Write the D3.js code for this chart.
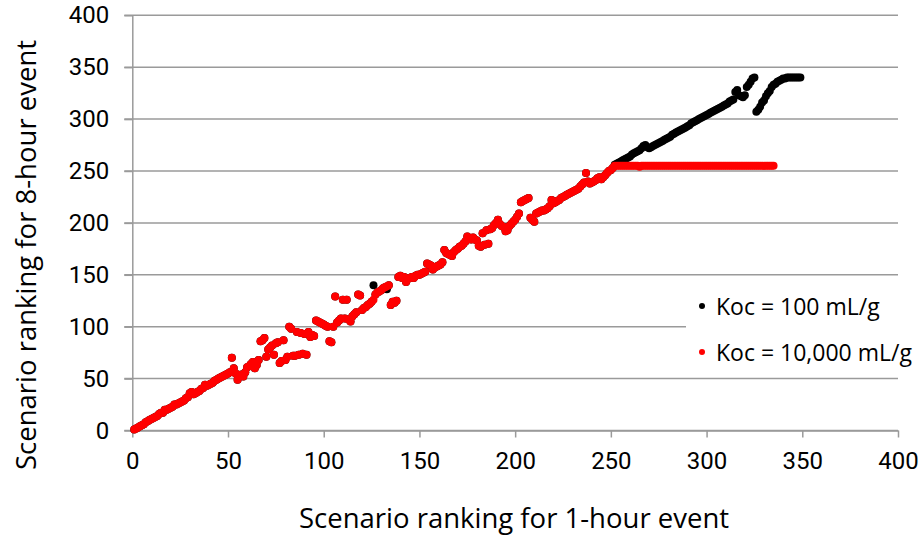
<!DOCTYPE html>
<html><head><meta charset="utf-8">
<script src="https://cdn.jsdelivr.net/npm/d3@7"></script>
<style>
body{margin:0;background:#fff}
svg{display:block}
text{font-family:'Open Sans','Noto Sans',sans-serif;fill:#000}
.tick text{font-family:Roboto,'Open Sans',sans-serif}
</style>
</head><body>
<svg id="chart" width="921" height="537"></svg>
<script>
// Axis ticks
const xTicks = [0, 50, 100, 150, 200, 250, 300, 350, 400];
const yTicks = [0, 50, 100, 150, 200, 250, 300, 350, 400];
const xTitle = "Scenario ranking for 1-hour event";
const yTitle = "Scenario ranking for 8-hour event";
const seriesNames = ["Koc = 100 mL/g", "Koc = 10,000 mL/g"];
const seriesColors = ["#000000", "#ff0000"];

// 8-hour ranking for each scenario, listed in order of its 1-hour ranking (1, 2, 3, ...)
const koc100Rank8h = [
1,2,3,4,5,6,8,9,10,11,
12,13,14,16,17,17,20,20,21,22,
23,25,25,26,27,28,29,31,32,36,
37,35,36,37,38,40,41,44,43,44,
45,46,48,49,50,51,52,53,54,55,
56,70,60,55,49,52,54,52,56,61,
62,64,66,60,63,68,86,87,89,71,
78,80,82,73,84,85,65,67,87,68,
71,100,98,72,72,95,73,94,74,93,
73,95,90,92,91,106,105,104,103,102,
101,100,86,85,100,129,104,106,108,126,
108,126,107,105,110,112,114,131,130,116,
118,119,121,122,124,140,131,133,134,135,
137,138,136,140,121,124,123,125,148,149,
147,148,143,146,147,148,147,149,150,150,
151,152,153,161,160,159,155,157,158,159,
160,162,174,171,170,169,168,172,174,175,
177,178,180,182,187,185,184,186,184,183,
178,177,190,179,193,180,194,195,198,200,
203,199,197,196,192,193,197,199,201,203,
206,209,220,221,222,223,224,205,203,201,
209,210,211,212,212,213,214,216,222,219,
220,221,222,224,225,226,227,228,229,230,
231,232,233,235,237,239,248,240,238,239,
240,241,243,244,242,244,246,248,250,251,
253,256,257,258,259,260,261,262,263,264,
266,267,268,269,270,272,274,275,273,272,
273,274,275,276,277,278,279,280,281,282,
283,285,286,287,288,289,290,291,292,293,
294,296,297,298,299,300,301,302,303,304,
305,306,307,308,309,310,311,312,313,314,
315,317,318,319,326,328,323,322,321,323,
331,333,336,339,340,307,309,312,316,318,
322,325,327,331,333,334,336,337,338,339,
339,340,340,340,340,340,340,340,340
];

const koc10000Rank8h = [
1,2,3,4,5,6,8,9,10,11,
12,13,14,16,17,17,20,20,21,22,
23,25,25,26,27,28,29,31,32,36,
37,35,36,37,38,40,41,44,43,44,
45,46,48,49,50,51,52,53,54,55,
56,70,60,55,49,52,54,52,56,61,
62,64,66,60,63,68,86,87,89,71,
78,80,82,73,84,85,65,67,87,68,
71,100,98,72,72,95,73,94,74,93,
73,95,90,92,91,106,105,104,103,102,
101,100,86,85,100,129,104,106,108,126,
108,126,107,105,110,112,114,131,130,116,
118,119,121,122,124,126,131,133,134,135,
137,138,139,140,121,124,123,125,148,149,
147,148,143,146,147,148,147,149,150,150,
151,152,153,161,160,159,155,157,158,159,
160,162,174,171,170,169,168,172,174,175,
177,178,180,182,187,185,184,186,184,183,
178,177,190,179,193,180,194,195,198,200,
203,199,197,196,192,193,197,199,201,203,
206,209,220,221,222,223,224,205,203,201,
209,210,211,212,212,213,214,216,222,219,
220,221,222,224,225,226,227,228,229,230,
231,232,233,235,237,239,248,240,238,239,
240,241,243,244,242,244,246,248,250,251,
253,255,255,255,255,255,255,255,255,255,
255,255,255,255,254,255,255,255,255,255,
255,255,255,255,255,255,255,255,255,255,
255,255,255,255,255,255,255,255,255,255,
255,255,255,255,255,255,255,255,255,255,
255,255,255,255,255,255,255,255,255,255,
255,255,255,255,255,255,255,255,255,255,
255,255,255,255,255,255,255,255,255,255,
255,255,255,255,255
];

const seriesValues = [koc100Rank8h, koc10000Rank8h];

const svg = d3.select("#chart");
const x = d3.scaleLinear().domain([0, 400]).range([132.3, 898]);
const y = d3.scaleLinear().domain([0, 400]).range([430.5, 15.3]);
const gridColor = "#9a9a9a";

// gridlines
svg.append("g").selectAll("line").data(yTicks).join("line")
  .attr("x1", x(0) - 8).attr("x2", x(400))
  .attr("y1", d => y(d)).attr("y2", d => y(d))
  .attr("stroke", gridColor).attr("stroke-width", 1.5);

// axes
const yAxis = svg.append("g").attr("transform", `translate(${x(0)},0)`)
  .call(d3.axisLeft(y).tickValues(yTicks).tickFormat(d3.format("d")).tickSizeInner(8).tickSizeOuter(0).tickPadding(15));
const xAxis = svg.append("g").attr("transform", `translate(0,${y(0)})`)
  .call(d3.axisBottom(x).tickValues(xTicks).tickFormat(d3.format("d")).tickSizeInner(7).tickSizeOuter(0).tickPadding(14));
[yAxis, xAxis].forEach(g => {
  g.attr("font-family", null).attr("font-size", null);
  g.selectAll("path").attr("stroke", gridColor).attr("stroke-width", 1.5);
  g.selectAll("line").attr("stroke", gridColor).attr("stroke-width", 1.5);
  g.selectAll("text").style("font-size", "24px").style("font-family", "Roboto,'Open Sans',sans-serif").attr("fill", "#000");
});

// points
seriesValues.forEach((vals, si) => {
  svg.append("g").selectAll("circle").data(vals).join("circle")
    .attr("cx", (d, i) => x(i + 1))
    .attr("cy", d => y(d))
    .attr("r", 4)
    .attr("fill", seriesColors[si]);
});

// axis titles
svg.append("text").attr("x", 514).attr("y", 528).attr("text-anchor", "middle")
  .attr("font-size", 27.5).text(xTitle);
svg.append("text").attr("transform", "translate(36,255) rotate(-90)").attr("text-anchor", "middle")
  .attr("font-size", 27.5).text(yTitle);

// legend
const leg = svg.append("g");
leg.append("rect").attr("x", 686).attr("y", 286).attr("width", 235).attr("height", 86).attr("fill", "#fff");
const legY = [306, 352];
seriesNames.forEach((name, i) => {
  leg.append("circle").attr("cx", 702).attr("cy", legY[i]).attr("r", 3).attr("fill", seriesColors[i]);
  leg.append("text").attr("x", 716).attr("y", legY[i] + 8.5).attr("font-size", 23).text(name);
});
</script>
</body></html>
